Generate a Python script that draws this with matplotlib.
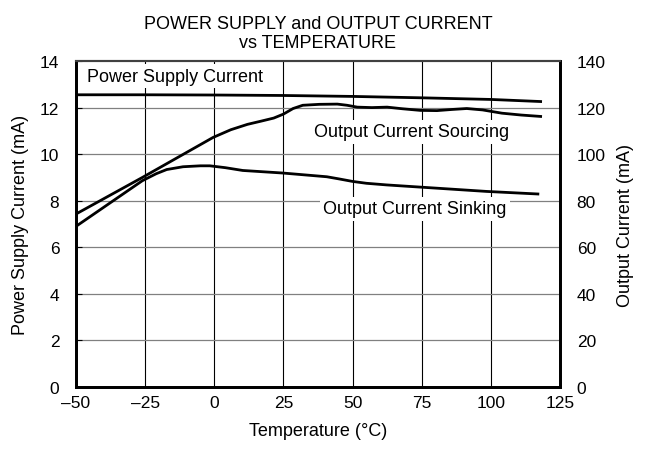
import matplotlib
matplotlib.use("Agg")
import matplotlib.pyplot as plt
import numpy as np

plt.rcParams['font.family'] = ['Liberation Sans', 'DejaVu Sans']

# Data (temperature in °C)
supply_t = [-50, -25, 0, 25, 50, 75, 100, 118]
supply_ma = [12.55, 12.55, 12.54, 12.52, 12.48, 12.42, 12.35, 12.26]

source_t = [-50, -26, -0.4, 6, 12, 17, 21.5, 25, 28.5, 32, 38, 44.5, 48, 51.7, 57, 62.5, 68, 74.5, 80.5, 86, 91.3, 97, 104, 111, 118]
source_ma = [74.3, 90.0, 107.2, 110.5, 112.8, 114.2, 115.5, 117.2, 119.6, 121.0, 121.4, 121.5, 121.0, 120.2, 120.0, 120.2, 119.5, 118.8, 118.7, 119.2, 119.6, 119.0, 117.6, 116.8, 116.2]

sink_t = [-50, -26, -21, -17.2, -11.3, -5, -1.6, 4, 10.3, 24.8, 40.7, 45, 50, 55, 62.3, 70, 80.4, 98.5, 117]
sink_ma = [69.0, 88.6, 91.6, 93.4, 94.6, 95.0, 95.0, 94.2, 93.0, 91.9, 90.3, 89.4, 88.3, 87.5, 86.8, 86.2, 85.4, 84.0, 82.9]

x_ticks = [-50, -25, 0, 25, 50, 75, 100, 125]
x_labels = ['\u201350', '\u201325', '0', '25', '50', '75', '100', '125']
left_ticks = [0, 2, 4, 6, 8, 10, 12, 14]
right_ticks = [0, 20, 40, 60, 80, 100, 120, 140]

fig = plt.figure(figsize=(6.51, 4.56), dpi=100)
ax = fig.add_axes([0.1167, 0.149, 0.7435, 0.715])
ax2 = ax.twinx()

ax.set_xlim(-50, 125)
ax.set_ylim(0, 14)
ax2.set_ylim(0, 140)

for v in x_ticks[1:-1]:
    ax.axvline(v, color='black', lw=0.8, zorder=1)
for v in left_ticks[1:-1]:
    ax.axhline(v, color='#808080', lw=0.9, zorder=1)

ax.plot(supply_t, supply_ma, color='black', lw=2.0, zorder=3, solid_joinstyle='round')
ax2.plot(source_t, source_ma, color='black', lw=2.0, zorder=3, solid_joinstyle='round')
ax2.plot(sink_t, sink_ma, color='black', lw=2.0, zorder=3, solid_joinstyle='round')

ax.set_xticks(x_ticks)
ax.set_xticklabels(x_labels, fontsize=12.5)
ax.set_yticks(left_ticks)
ax.set_yticklabels([str(v) for v in left_ticks], fontsize=12.5)
ax2.set_yticks(right_ticks)
ax2.set_yticklabels([str(v) for v in right_ticks], fontsize=12.5)

ax.tick_params(axis='x', direction='in', length=0, pad=6)
ax.tick_params(axis='y', direction='in', length=4, width=0.8, pad=12)
ax2.tick_params(axis='y', direction='in', length=0, pad=12)

ax.set_xlabel('Temperature (\u00b0C)', fontsize=13, labelpad=8)
ax.set_ylabel('Power Supply Current (mA)', fontsize=13, labelpad=8)
ax2.set_ylabel('Output Current (mA)', fontsize=13, labelpad=8)
ax.set_title('POWER SUPPLY and OUTPUT CURRENT\nvs TEMPERATURE', fontsize=13, pad=10, linespacing=1.2)

for a in (ax, ax2):
    for s in ('left', 'right', 'bottom'):
        a.spines[s].set_linewidth(2.0)
        a.spines[s].set_color('black')
    a.spines['top'].set_linewidth(1.5)
    a.spines['top'].set_color('#404040')

ax2.set_zorder(ax.get_zorder() + 1)
ax2.patch.set_visible(False)

box = dict(facecolor='white', edgecolor='none', pad=2.5)
ax.text(-46, 13.35, 'Power Supply Current', fontsize=13, va='center', ha='left', bbox=box, zorder=4)
ax2.text(71.5, 109.7, 'Output Current Sourcing', fontsize=13, va='center', ha='center', bbox=box, zorder=4)
ax2.text(72.5, 76.5, 'Output Current Sinking', fontsize=13, va='center', ha='center', bbox=box, zorder=4)

fig.savefig('out.png', dpi=100)
